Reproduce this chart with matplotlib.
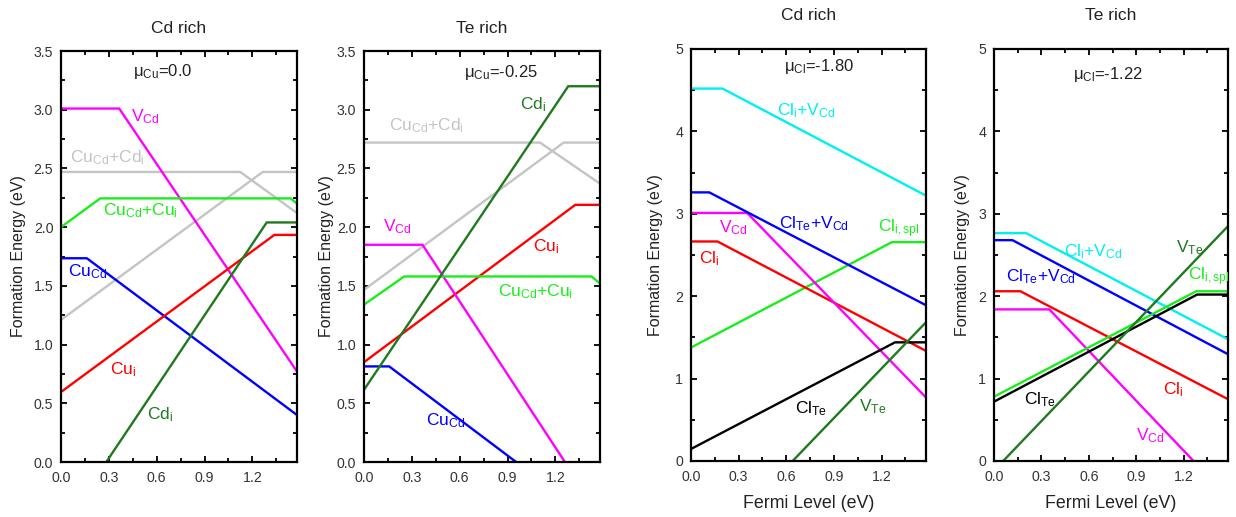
import matplotlib
matplotlib.use("Agg")
import matplotlib.pyplot as plt
from matplotlib.ticker import MultipleLocator, FixedLocator

plt.rcParams['font.family'] = ['Liberation Sans', 'DejaVu Sans']
plt.rcParams['mathtext.fontset'] = 'custom'
plt.rcParams['mathtext.rm'] = 'Liberation Sans'
plt.rcParams['mathtext.it'] = 'Liberation Sans'
plt.rcParams['mathtext.bf'] = 'Liberation Sans:bold'

# ---------------- data ----------------
EF_MAX = 1.48
titles = ["Cd rich", "Te rich", "Cd rich", "Te rich"]
mu_labels = [r"μ$_{\mathrm{Cu}}$=0.0", r"μ$_{\mathrm{Cu}}$=-0.25",
             r"μ$_{\mathrm{Cl}}$=-1.80", r"μ$_{\mathrm{Cl}}$=-1.22"]
x_ticks = [0.0, 0.3, 0.6, 0.9, 1.2]
x_tick_labels = ["0.0", "0.3", "0.6", "0.9", "1.2"]
cu_y_ticks = [0.0, 0.5, 1.0, 1.5, 2.0, 2.5, 3.0, 3.5]
cu_y_tick_labels = ["0.0", "0.5", "1.0", "1.5", "2.0", "2.5", "3.0", "3.5"]
cl_y_ticks = [0, 1, 2, 3, 4, 5]
cl_y_tick_labels = ["0", "1", "2", "3", "4", "5"]

# Panel 1: Cu, Cd rich  (Fermi level breakpoints, formation energies)
p1_VCd_x = [0, 0.365, 1.48];          p1_VCd_y = [3.01, 3.01, 0.77]
p1_CuCdCdi_a_x = [0, 1.124, 1.48];    p1_CuCdCdi_a_y = [2.47, 2.47, 2.12]
p1_CuCdCdi_b_x = [0, 1.265, 1.48];    p1_CuCdCdi_b_y = [1.21, 2.47, 2.47]
p1_CuCdCui_x = [0, 0.246, 1.44, 1.48]; p1_CuCdCui_y = [2.0, 2.245, 2.245, 2.20]
p1_CuCd_x = [0, 0.162, 1.48];         p1_CuCd_y = [1.735, 1.735, 0.40]
p1_Cui_x = [0, 1.338, 1.48];          p1_Cui_y = [0.596, 1.934, 1.934]
p1_Cdi_x = [0.284, 1.29, 1.48];       p1_Cdi_y = [0.0, 2.04, 2.04]

# Panel 2: Cu, Te rich
p2_Cdi_x = [0, 1.281, 1.48];          p2_Cdi_y = [0.615, 3.20, 3.20]
p2_CuCdCdi_a_x = [0, 1.104, 1.48];    p2_CuCdCdi_a_y = [2.72, 2.72, 2.37]
p2_CuCdCdi_b_x = [0, 1.252, 1.48];    p2_CuCdCdi_b_y = [1.466, 2.72, 2.72]
p2_Cui_x = [0, 1.325, 1.48];          p2_Cui_y = [0.85, 2.19, 2.19]
p2_VCd_x = [0, 0.367, 1.26];          p2_VCd_y = [1.85, 1.85, 0.0]
p2_CuCdCui_x = [0, 0.252, 1.427, 1.48]; p2_CuCdCui_y = [1.34, 1.58, 1.58, 1.52]
p2_CuCd_x = [0, 0.158, 0.954];        p2_CuCd_y = [0.814, 0.814, 0.0]

# Panel 3: Cl, Cd rich
p3_CliVCd_x = [0, 0.198, 1.48];       p3_CliVCd_y = [4.52, 4.52, 3.22]
p3_ClTeVCd_x = [0, 0.115, 1.48];      p3_ClTeVCd_y = [3.26, 3.26, 1.89]
p3_VCd_x = [0, 0.354, 1.48];          p3_VCd_y = [3.01, 3.01, 0.77]
p3_Cli_x = [0, 0.167, 1.48];          p3_Cli_y = [2.664, 2.664, 1.336]
p3_Clispl_x = [0, 1.265, 1.48];       p3_Clispl_y = [1.377, 2.656, 2.656]
p3_ClTe_x = [0, 1.285, 1.48];         p3_ClTe_y = [0.146, 1.44, 1.44]
p3_VTe_x = [0.64, 1.48];              p3_VTe_y = [0.0, 1.684]

# Panel 4: Cl, Te rich
p4_CliVCd_x = [0, 0.204, 1.48];       p4_CliVCd_y = [2.765, 2.765, 1.478]
p4_ClTeVCd_x = [0, 0.117, 1.48];      p4_ClTeVCd_y = [2.68, 2.68, 1.296]
p4_Cli_x = [0, 0.167, 1.48];          p4_Cli_y = [2.06, 2.06, 0.75]
p4_VCd_x = [0, 0.35, 1.262];          p4_VCd_y = [1.84, 1.84, 0.0]
p4_Clispl_x = [0, 1.279, 1.48];       p4_Clispl_y = [0.78, 2.06, 2.06]
p4_ClTe_x = [0, 1.285, 1.48];         p4_ClTe_y = [0.72, 2.02, 2.02]
p4_VTe_x = [0.058, 1.48];             p4_VTe_y = [0.0, 2.85]

# ---------------- styles ----------------
C_MAG = "#ff00ff"; C_GRAY = "#c4c4c4"; C_LIME = "#1aee1a"; C_BLUE = "#0000ff"
C_RED = "#ff0000"; C_DKG = "#1e7a1e"; C_CYAN = "#00f0f0"; C_BLK = "#000000"

L_VCd = r"V$_{\mathrm{Cd}}$"
L_CuCdCdi = r"Cu$_{\mathrm{Cd}}$+Cd$_{\mathrm{i}}$"
L_CuCdCui = r"Cu$_{\mathrm{Cd}}$+Cu$_{\mathrm{i}}$"
L_CuCd = r"Cu$_{\mathrm{Cd}}$"
L_Cui = r"Cu$_{\mathrm{i}}$"
L_Cdi = r"Cd$_{\mathrm{i}}$"
L_CliVCd = r"Cl$_{\mathrm{i}}$+V$_{\mathrm{Cd}}$"
L_ClTeVCd = r"Cl$_{\mathrm{Te}}$+V$_{\mathrm{Cd}}$"
L_Cli = r"Cl$_{\mathrm{i}}$"
L_Clispl = r"Cl$_{\mathrm{i,spl}}$"
L_ClTe = r"Cl$_{\mathrm{Te}}$"
L_VTe = r"V$_{\mathrm{Te}}$"

panels = [
    dict(lines=[(p1_CuCdCdi_a_x, p1_CuCdCdi_a_y, C_GRAY), (p1_CuCdCdi_b_x, p1_CuCdCdi_b_y, C_GRAY),
                (p1_VCd_x, p1_VCd_y, C_MAG), (p1_CuCdCui_x, p1_CuCdCui_y, C_LIME),
                (p1_CuCd_x, p1_CuCd_y, C_BLUE), (p1_Cui_x, p1_Cui_y, C_RED),
                (p1_Cdi_x, p1_Cdi_y, C_DKG)],
         labels=[(L_VCd, 0.44, 2.90, C_MAG), (L_CuCdCdi, 0.057, 2.555, C_GRAY),
                 (L_CuCdCui, 0.263, 2.105, C_LIME), (L_CuCd, 0.042, 1.585, C_BLUE),
                 (L_Cui, 0.31, 0.745, C_RED), (L_Cdi, 0.54, 0.365, C_DKG)],
         mu=(0.64, 3.29), ylim=3.5, yt=cu_y_ticks, ytl=cu_y_tick_labels, minor_y=0.25,
         rect=(61, 51, 297, 462), title_pad=13, ylab_x=-0.178, xlabel=False),
    dict(lines=[(p2_CuCdCdi_a_x, p2_CuCdCdi_a_y, C_GRAY), (p2_CuCdCdi_b_x, p2_CuCdCdi_b_y, C_GRAY),
                (p2_Cui_x, p2_Cui_y, C_RED), (p2_VCd_x, p2_VCd_y, C_MAG),
                (p2_CuCdCui_x, p2_CuCdCui_y, C_LIME), (p2_CuCd_x, p2_CuCd_y, C_BLUE),
                (p2_Cdi_x, p2_Cdi_y, C_DKG)],
         labels=[(L_Cdi, 0.98, 3.00, C_DKG), (L_CuCdCdi, 0.158, 2.825, C_GRAY),
                 (L_VCd, 0.117, 1.965, C_MAG), (L_Cui, 1.06, 1.795, C_RED),
                 (L_CuCdCui, 0.84, 1.415, C_LIME), (L_CuCd, 0.39, 0.315, C_BLUE)],
         mu=(0.86, 3.28), ylim=3.5, yt=cu_y_ticks, ytl=cu_y_tick_labels, minor_y=0.25,
         rect=(364, 51, 600, 462), title_pad=13, ylab_x=-0.157, xlabel=False),
    dict(lines=[(p3_CliVCd_x, p3_CliVCd_y, C_CYAN), (p3_Clispl_x, p3_Clispl_y, C_LIME),
                (p3_Cli_x, p3_Cli_y, C_RED), (p3_VCd_x, p3_VCd_y, C_MAG),
                (p3_ClTeVCd_x, p3_ClTeVCd_y, C_BLUE), (p3_ClTe_x, p3_ClTe_y, C_BLK),
                (p3_VTe_x, p3_VTe_y, C_DKG)],
         labels=[(L_CliVCd, 0.54, 4.20, C_CYAN), (L_ClTeVCd, 0.556, 2.83, C_BLUE),
                 (L_VCd, 0.175, 2.77, C_MAG), (L_Cli, 0.05, 2.40, C_RED),
                 (L_Clispl, 1.18, 2.77, C_LIME), (L_ClTe, 0.654, 0.58, C_BLK),
                 (L_VTe, 1.06, 0.60, C_DKG)],
         mu=(0.806, 4.73), ylim=5, yt=cl_y_ticks, ytl=cl_y_tick_labels, minor_y=0.5,
         rect=(691, 49, 926, 461), title_pad=21, ylab_x=-0.149, xlabel=True),
    dict(lines=[(p4_CliVCd_x, p4_CliVCd_y, C_CYAN), (p4_Cli_x, p4_Cli_y, C_RED),
                (p4_VCd_x, p4_VCd_y, C_MAG), (p4_ClTeVCd_x, p4_ClTeVCd_y, C_BLUE),
                (p4_Clispl_x, p4_Clispl_y, C_LIME), (p4_ClTe_x, p4_ClTe_y, C_BLK),
                (p4_VTe_x, p4_VTe_y, C_DKG)],
         labels=[(L_CliVCd, 0.44, 2.49, C_CYAN), (L_ClTeVCd, 0.075, 2.18, C_BLUE),
                 (L_VTe, 1.15, 2.53, C_DKG), (L_Clispl, 1.23, 2.19, C_LIME),
                 (L_Cli, 1.07, 0.81, C_RED), (L_ClTe, 0.19, 0.69, C_BLK),
                 (L_VCd, 0.90, 0.25, C_MAG)],
         mu=(0.72, 4.63), ylim=5, yt=cl_y_ticks, ytl=cl_y_tick_labels, minor_y=0.5,
         rect=(994, 49, 1228, 461), title_pad=21, ylab_x=-0.135, xlabel=True),
]

W, H = 1236, 517
fig = plt.figure(figsize=(W / 100, H / 100), dpi=100)

for i, p in enumerate(panels):
    l, t, r, b = p["rect"]
    ax = fig.add_axes([l / W, (H - b) / H, (r - l) / W, (b - t) / H])
    for xs, ys, c in p["lines"]:
        ax.plot(xs, ys, color=c, lw=1.7, solid_joinstyle="miter", clip_on=True)
    for txt, x, y, c in p["labels"]:
        ax.text(x, y, txt, color=c, fontsize=12.5, ha="left", va="baseline")
    ax.text(p["mu"][0], p["mu"][1], mu_labels[i], color="#222222", fontsize=12,
            ha="center", va="baseline")
    ax.set_xlim(0, EF_MAX)
    ax.set_ylim(0, p["ylim"])
    ax.xaxis.set_major_locator(FixedLocator(x_ticks))
    ax.set_xticklabels(x_tick_labels)
    ax.xaxis.set_minor_locator(MultipleLocator(0.15))
    ax.yaxis.set_major_locator(FixedLocator(p["yt"]))
    ax.set_yticklabels(p["ytl"])
    ax.yaxis.set_minor_locator(MultipleLocator(p["minor_y"]))
    ax.tick_params(which="both", direction="in", top=True, right=True, width=1.3,
                   labelsize=10.2, labelcolor="#333333")
    ax.tick_params(axis="x", pad=6.5)
    ax.tick_params(axis="y", pad=5.5)
    ax.tick_params(which="major", length=4.5)
    ax.tick_params(which="minor", length=3)
    for s in ax.spines.values():
        s.set_linewidth(1.6)
    ax.set_title(titles[i], fontsize=12.5, pad=p["title_pad"], color="#222222")
    ax.set_ylabel("Formation Energy (eV)", fontsize=11.5, color="#222222")
    ax.yaxis.set_label_coords(p["ylab_x"], 0.5)
    ax.yaxis.label.set_va("center")
    if p["xlabel"]:
        ax.set_xlabel("Fermi Level (eV)", fontsize=12.8, color="#222222")
        ax.xaxis.set_label_coords(0.5, -0.102)
        ax.xaxis.label.set_va("center")

fig.savefig("out.png", dpi=100)
